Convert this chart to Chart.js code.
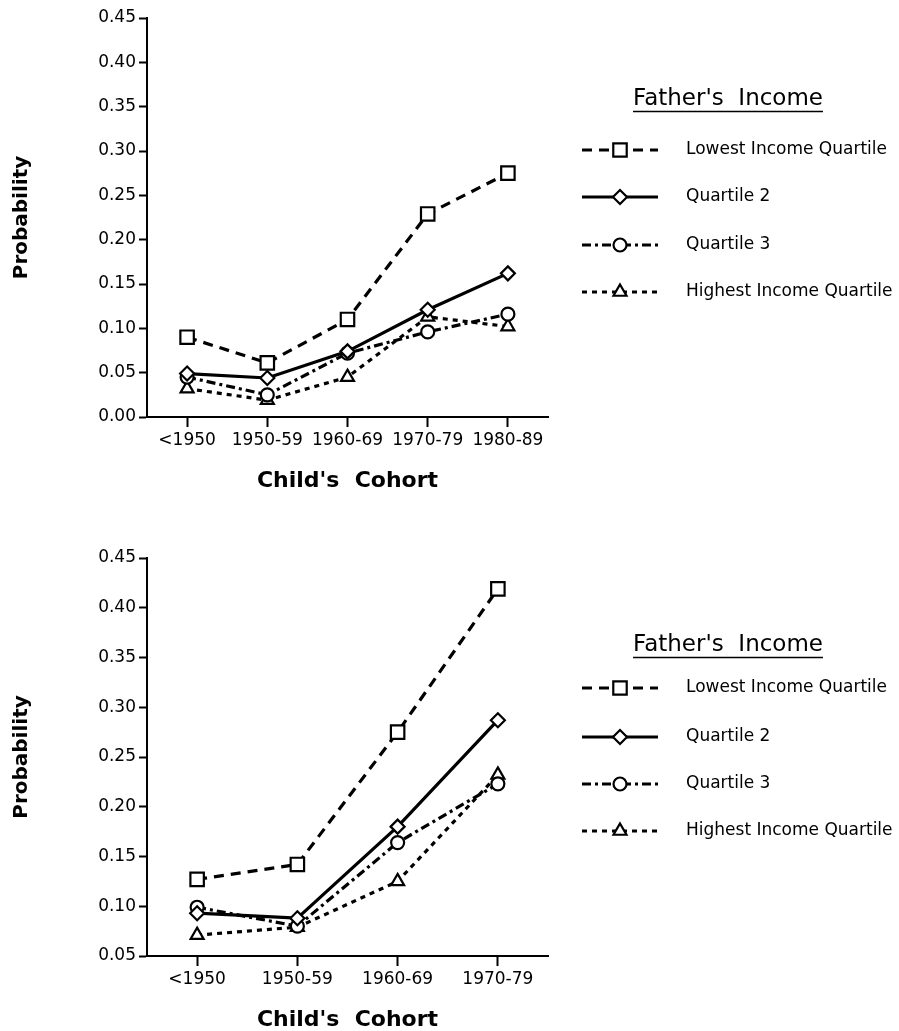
<!DOCTYPE html>
<html>
<head>
<meta charset="utf-8">
<script src="https://cdn.jsdelivr.net/npm/chart.js@4/dist/chart.umd.min.js"></script>
<style>
  html, body { margin: 0; padding: 0; background: #fff; }
  #wrap { position: relative; width: 899px; height: 1031px; overflow: hidden; background: #fff; }
  canvas { position: absolute; left: 0; }
</style>
</head>
<body>
<div id="wrap">
  <canvas id="cohortsTo1989" width="899" height="510" style="top:0;width:899px;height:510px"></canvas>
  <canvas id="cohortsTo1979" width="899" height="521" style="top:510px;width:899px;height:521px"></canvas>
</div>
<script>
// Upper panel: cohorts born up to the 1980s
const cohortsUpper = ['<1950', '1950-59', '1960-69', '1970-79', '1980-89'];
const lowestUpper  = [0.090, 0.061, 0.110, 0.229, 0.275];
const q2Upper      = [0.049, 0.044, 0.074, 0.121, 0.162];
const q3Upper      = [0.045, 0.025, 0.072, 0.096, 0.116];
const highestUpper = [0.032, 0.019, 0.045, 0.113, 0.102];
const yTicksUpper  = [0, 0.05, 0.10, 0.15, 0.20, 0.25, 0.30, 0.35, 0.40, 0.45];

// Lower panel: cohorts born up to the 1970s
const cohortsLower = ['<1950', '1950-59', '1960-69', '1970-79'];
const lowestLower  = [0.127, 0.142, 0.275, 0.419];
const q2Lower      = [0.093, 0.088, 0.180, 0.287];
const q3Lower      = [0.099, 0.080, 0.164, 0.223];
const highestLower = [0.071, 0.079, 0.125, 0.232];
const yTicksLower  = [0.05, 0.10, 0.15, 0.20, 0.25, 0.30, 0.35, 0.40, 0.45];

const seriesNames = ['Lowest Income Quartile', 'Quartile 2', 'Quartile 3', 'Highest Income Quartile'];
const legendTitle = "Father's  Income";
const yTitle = 'Probability';
const xTitle = "Child's  Cohort";

const FONT = '"DejaVu Sans", "Liberation Sans", sans-serif';
Chart.defaults.font.family = FONT;
Chart.defaults.color = '#000';

// Line and marker style for each quartile
const styles = [
  { pointStyle: 'rect',     pointRadius: 9.5, borderDash: [10, 7] },
  { pointStyle: 'rectRot',  pointRadius: 7,   borderDash: [] },
  { pointStyle: 'circle',   pointRadius: 6.5, borderDash: [9, 4, 3, 4] },
  { pointStyle: 'triangle', pointRadius: 7.5, borderDash: [5, 5] }
];

function makeDatasets(seriesList) {
  return seriesList.map((values, i) => ({
    label: seriesNames[i],
    data: values,
    borderColor: '#000',
    borderWidth: 3.2,
    borderDash: styles[i].borderDash,
    pointStyle: styles[i].pointStyle,
    pointRadius: styles[i].pointRadius,
    pointHoverRadius: styles[i].pointRadius,
    pointBackgroundColor: '#fff',
    pointBorderColor: '#000',
    pointBorderWidth: 2.2,
    tension: 0,
    fill: false
  }));
}

function drawMarker(ctx, style, r, x, y) {
  ctx.save();
  ctx.setLineDash([]);
  ctx.fillStyle = '#fff';
  ctx.strokeStyle = '#000';
  ctx.lineWidth = 2.2;
  ctx.beginPath();
  if (style === 'rect') {
    const s = Math.SQRT1_2 * r;
    ctx.rect(x - s, y - s, 2 * s, 2 * s);
  } else if (style === 'rectRot') {
    ctx.moveTo(x, y - r); ctx.lineTo(x + r, y); ctx.lineTo(x, y + r); ctx.lineTo(x - r, y);
    ctx.closePath();
  } else if (style === 'circle') {
    ctx.arc(x, y, r, 0, Math.PI * 2);
  } else if (style === 'triangle') {
    for (let k = 0; k < 3; k++) {
      const a = -Math.PI / 2 + k * 2 * Math.PI / 3;
      const px = x + Math.cos(a) * r, py = y + Math.sin(a) * r;
      if (k === 0) ctx.moveTo(px, py); else ctx.lineTo(px, py);
    }
    ctx.closePath();
  }
  ctx.fill();
  ctx.stroke();
  ctx.restore();
}

// Legend block to the right of the plot: underlined title, line sample with marker, label
const incomeLegend = {
  id: 'incomeLegend',
  afterDraw(chart, args, opts) {
    const ctx = chart.ctx;
    ctx.save();
    ctx.fillStyle = '#000';
    ctx.strokeStyle = '#000';
    ctx.font = '23px ' + FONT;
    ctx.textAlign = 'center';
    ctx.textBaseline = 'middle';
    ctx.fillText(legendTitle, opts.titleX, opts.titleY);
    const w = ctx.measureText(legendTitle).width;
    ctx.lineWidth = 1.6;
    ctx.beginPath();
    ctx.moveTo(opts.titleX - w / 2, opts.titleY + 12.5);
    ctx.lineTo(opts.titleX + w / 2, opts.titleY + 12.5);
    ctx.stroke();

    chart.data.datasets.forEach((ds, i) => {
      const y = opts.rows[i];
      ctx.lineWidth = ds.borderWidth;
      ctx.setLineDash(ds.borderDash || []);
      ctx.beginPath();
      ctx.moveTo(opts.lineFrom, y);
      ctx.lineTo(opts.lineTo, y);
      ctx.stroke();
      ctx.setLineDash([]);
      drawMarker(ctx, ds.pointStyle, ds.pointRadius, (opts.lineFrom + opts.lineTo) / 2, y);
      ctx.font = '17px ' + FONT;
      ctx.textAlign = 'left';
      ctx.fillStyle = '#000';
      ctx.fillText(ds.label, opts.textX, y);
    });
    ctx.restore();
  }
};

function makeChart(canvasId, labels, seriesList, yTicks, padding, legendRows, legendTitleY) {
  return new Chart(document.getElementById(canvasId), {
    type: 'line',
    data: { labels: labels, datasets: makeDatasets(seriesList) },
    plugins: [incomeLegend],
    options: {
      responsive: false,
      devicePixelRatio: 1,
      animation: false,
      events: [],
      layout: { padding: padding },
      plugins: {
        legend: { display: false },
        tooltip: { enabled: false },
        incomeLegend: {
          titleX: 728, titleY: legendTitleY,
          rows: legendRows,
          lineFrom: 582, lineTo: 658, textX: 686
        }
      },
      scales: {
        x: {
          type: 'category',
          offset: true,
          grid: {
            display: true, drawOnChartArea: false, drawTicks: true,
            tickLength: 10, tickWidth: 2, tickColor: '#000', color: '#000', offset: false
          },
          border: { display: true, color: '#000', width: 2 },
          ticks: { color: '#000', font: { size: 17 }, padding: 3, maxRotation: 0, autoSkip: false },
          title: {
            display: true, text: xTitle, color: '#000',
            font: { size: 22, weight: 'bold' }, padding: { top: 0, bottom: -2 }
          },
          afterFit(scale) { scale.height = 75; }
        },
        y: {
          min: yTicks[0],
          max: yTicks[yTicks.length - 1],
          grid: {
            display: true, drawOnChartArea: false, drawTicks: true,
            tickLength: 8, tickWidth: 2, tickColor: '#000', color: '#000'
          },
          border: { display: true, color: '#000', width: 2 },
          ticks: {
            color: '#000', font: { size: 17 }, padding: 3,
            callback: (v) => Number(v).toFixed(2)
          },
          afterBuildTicks(scale) { scale.ticks = yTicks.map(v => ({ value: v })); },
          title: {
            display: true, text: yTitle, color: '#000',
            font: { size: 20, weight: 'bold' }, padding: { top: 10, bottom: 0 }
          },
          afterFit(scale) { scale.width = 147; }
        }
      }
    }
  });
}

makeChart('cohortsTo1989', cohortsUpper,
  [lowestUpper, q2Upper, q3Upper, highestUpper], yTicksUpper,
  { left: 0, top: 18, right: 351, bottom: 18 },
  [150, 197, 245, 292], 99);

makeChart('cohortsTo1979', cohortsLower,
  [lowestLower, q2Lower, q3Lower, highestLower], yTicksLower,
  { left: 0, top: 48, right: 351, bottom: 0 },
  [178, 227, 274, 321], 135);
</script>
</body>
</html>
